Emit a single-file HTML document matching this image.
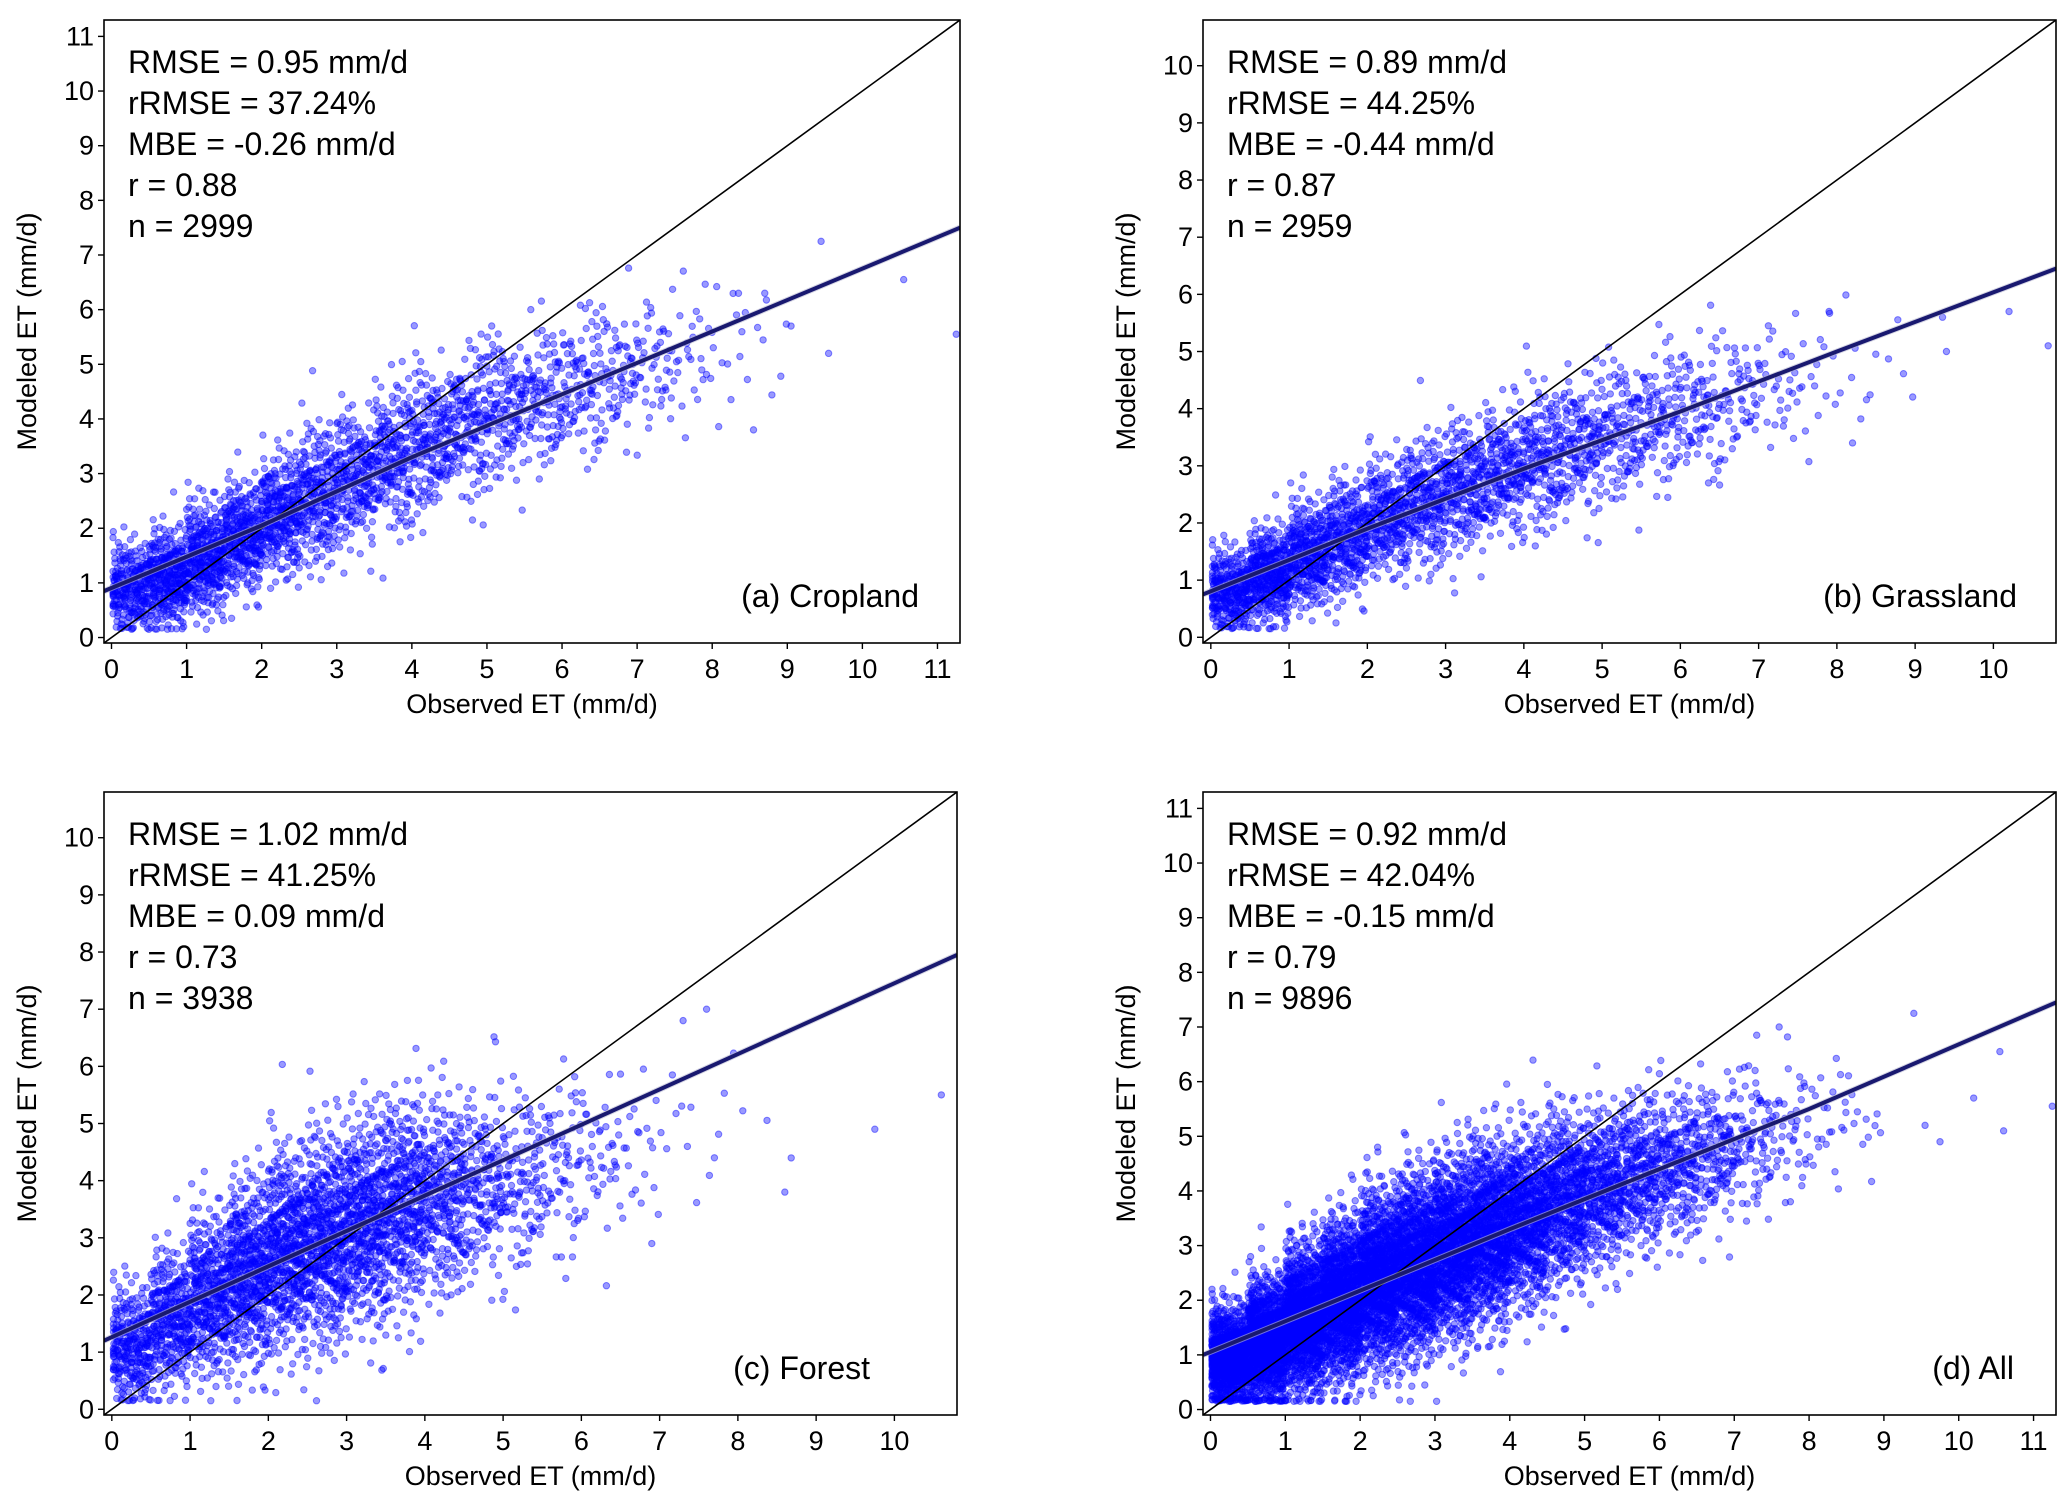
<!DOCTYPE html>
<html><head><meta charset="utf-8"><style>
html,body{margin:0;padding:0;background:#fff;}
svg{display:block;font-family:"Liberation Sans",sans-serif;}
</style></head><body>
<svg id="fig" width="2067" height="1503" viewBox="0 0 2067 1503" xmlns="http://www.w3.org/2000/svg"></svg>
<script>
// ---- data (binned density of scatter) ----
const binX = [0.25,0.75,1.25,1.75,2.25,2.75,3.25,3.75,4.25,4.75,5.25,5.75,6.25,6.75,7.25,7.75,8.25,8.75];
const meanA = [0.9,1.1,1.45,1.85,2.25,2.6,2.95,3.3,3.6,3.95,4.2,4.4,4.6,4.8,5.0,5.2,5.3,5.4];
const countA = [250,320,330,300,280,240,210,200,180,160,130,110,90,70,45,25,12,6];
const sdA = [0.4,0.45,0.5,0.5,0.55,0.6,0.6,0.65,0.65,0.65,0.65,0.65,0.65,0.65,0.65,0.65,0.7,0.7];
const meanB = [0.8,1.1,1.45,1.75,2.1,2.4,2.65,2.9,3.15,3.4,3.6,3.85,4.0,4.2,4.4,4.5,4.6,4.7];
const countB = [300,380,330,280,250,240,220,200,180,150,120,100,80,55,30,15,8,4];
const sdB = [0.35,0.4,0.45,0.5,0.5,0.55,0.55,0.55,0.6,0.6,0.6,0.6,0.6,0.6,0.6,0.6,0.6,0.6];
const meanC = [1.1,1.6,2.0,2.4,2.8,3.0,3.3,3.6,3.7,3.9,4.0,4.3,4.4,4.5,5.0,5.0,5.0,5.0];
const countC = [280,320,380,450,480,470,440,380,260,170,110,70,40,20,8,4,2,1];
const sdC = [0.5,0.6,0.7,0.8,0.85,0.9,0.9,0.9,0.85,0.8,0.8,0.75,0.7,0.7,0.7,0.7,0.7,0.7];
const meanD = [0.95,1.25,1.65,2.0,2.4,2.65,2.95,3.25,3.5,3.85,4.05,4.3,4.5,4.7,4.9,5.1,5.2,5.3];
const countD = [830,1020,1040,1030,1010,950,870,780,620,480,360,280,210,145,83,44,22,11];
const sdD = [0.45,0.55,0.65,0.7,0.75,0.8,0.8,0.8,0.75,0.75,0.7,0.7,0.65,0.65,0.65,0.65,0.65,0.65];
// outliers
const outA = [[9.45,7.25],[10.55,6.55],[11.25,5.55],[9.55,5.2],[9.05,5.7],[8.7,6.3],[8.35,6.3],[8.55,3.8]];
const outB = [[9.35,5.6],[10.2,5.7],[10.7,5.1],[9.4,5.0],[8.2,3.4],[7.9,5.7]];
const outC = [[10.6,5.5],[9.75,4.9],[8.6,3.8],[7.6,7.0],[7.3,6.8],[7.7,4.4],[6.9,2.9]];
const outD = [[9.4,7.25],[10.55,6.55],[11.25,5.55],[10.2,5.7],[10.6,5.1],[9.75,4.9],[9.55,5.2],[7.6,7.0],[7.3,6.85]];
// regression (smoothed fit) curves
const fitXA = [-0.1,2,4,6,8,11.3];  const fitYA = [0.85,2.05,3.3,4.45,5.6,7.5];
const fitXB = [-0.1,2,4,6,8,10.8];  const fitYB = [0.75,1.9,2.95,3.95,5.0,6.45];
const fitXC = [-0.1,10.8];          const fitYC = [1.2,7.95];
const fitXD = [-0.1,2.4,4,6,8,11.3];const fitYD = [1.0,2.4,3.3,4.4,5.5,7.45];
const statsA = ["RMSE = 0.95 mm/d","rRMSE = 37.24%","MBE = -0.26 mm/d","r = 0.88","n = 2999"];
const statsB = ["RMSE = 0.89 mm/d","rRMSE = 44.25%","MBE = -0.44 mm/d","r = 0.87","n = 2959"];
const statsC = ["RMSE = 1.02 mm/d","rRMSE = 41.25%","MBE = 0.09 mm/d","r = 0.73","n = 3938"];
const statsD = ["RMSE = 0.92 mm/d","rRMSE = 42.04%","MBE = -0.15 mm/d","r = 0.79","n = 9896"];
const ticks11 = [0,1,2,3,4,5,6,7,8,9,10,11];
const ticks10 = [0,1,2,3,4,5,6,7,8,9,10];

const NS="http://www.w3.org/2000/svg";
const svg=document.getElementById('fig');
function mk(tag,attrs,parent){const e=document.createElementNS(NS,tag);for(const k in attrs)e.setAttribute(k,attrs[k]);(parent||svg).appendChild(e);return e;}

const panels=[
 {id:'a',L:104,R:960,T:20,B:643,max:11.3,ticks:ticks11,mean:meanA,count:countA,sd:sdA,out:outA,fx:fitXA,fy:fitYA,stats:statsA,label:"(a) Cropland",labRight:919},
 {id:'b',L:1203,R:2056,T:20,B:643,max:10.8,ticks:ticks10,mean:meanB,count:countB,sd:sdB,out:outB,fx:fitXB,fy:fitYB,stats:statsB,label:"(b) Grassland",labRight:2017},
 {id:'c',L:104,R:957,T:792,B:1415,max:10.8,ticks:ticks10,mean:meanC,count:countC,sd:sdC,out:outC,fx:fitXC,fy:fitYC,stats:statsC,label:"(c) Forest",labRight:870},
 {id:'d',L:1203,R:2056,T:792,B:1415,max:11.3,ticks:ticks11,mean:meanD,count:countD,sd:sdD,out:outD,fx:fitXD,fy:fitYD,stats:statsD,label:"(d) All",labRight:2014}
];

function frac(v){return v-Math.floor(v);}
panels.forEach(p=>{
  const g=mk('g',{});
  
  
  const min=-0.1;
  const sx=v=>p.L+(v-min)/(p.max-min)*(p.R-p.L);
  const sy=v=>p.B-(v-min)/(p.max-min)*(p.B-p.T);
  const cid='clip'+p.id;
  const cp=mk('clipPath',{id:cid},g);mk('rect',{x:p.L,y:p.T,width:p.R-p.L,height:p.B-p.T},cp);
  const pts=mk('g',{'clip-path':'url(#'+cid+')',fill:'#0000ff','fill-opacity':'0.4',stroke:'#0000ff','stroke-opacity':'0.45','stroke-width':'1'},g);
  
  
  let k=0;
  binX.forEach((c,bi)=>{
    for(let i=0;i<p.count[bi];i++){
      k++;
      const u1=frac(0.5+k*0.7548776662), u2=frac(0.5+k*0.5698402910), u3=frac(0.3+k*0.6180339887);
      const z=Math.sqrt(-2*Math.log(Math.max(u1,1e-4)))*Math.cos(2*Math.PI*u2);
      let x=c+(u3-0.5)*0.5; if(x<0.02)x=0.02+u3*0.05;
      let y=p.mean[bi]+p.sd[bi]*z; if(y<0.15)y=0.15+u1*0.3;
      mk('circle',{cx:sx(x).toFixed(1),cy:sy(y).toFixed(1),r:3.2},pts);
    }
  });
  p.out.forEach(o=>{
    const c=mk('circle',{cx:sx(o[0]),cy:sy(o[1]),r:3.2},pts);
    
    
  });
  const one=mk('line',{x1:sx(min),y1:sy(min),x2:sx(p.max),y2:sy(p.max),stroke:'#000','stroke-width':1.6,'clip-path':'url(#'+cid+')'},g);
  
  
  let d='';p.fx.forEach((x,i)=>{d+=(i?'L':'M')+sx(x).toFixed(1)+' '+sy(p.fy[i]).toFixed(1);});
  const band=mk('path',{d:d,stroke:'#b8b8d0','stroke-width':6,'stroke-opacity':0.6,fill:'none','clip-path':'url(#'+cid+')'},g);
  
  
  const fit=mk('path',{d:d,stroke:'#191970','stroke-width':4,fill:'none','clip-path':'url(#'+cid+')'},g);
  
  
  const fr=mk('rect',{x:p.L,y:p.T,width:p.R-p.L,height:p.B-p.T,fill:'none',stroke:'#000','stroke-width':1.6},g);
  
  
  p.ticks.forEach(t=>{
    mk('line',{x1:sx(t),y1:p.B,x2:sx(t),y2:p.B+6,stroke:'#000','stroke-width':1.4},g);
    const tx=mk('text',{x:sx(t),y:p.B+35,'font-size':27,'text-anchor':'middle',fill:'#000'},g);
    tx.textContent=t;
    
    
    mk('line',{x1:p.L-6,y1:sy(t),x2:p.L,y2:sy(t),stroke:'#000','stroke-width':1.4},g);
    const ty=mk('text',{x:p.L-10,y:sy(t)+9,'font-size':27,'text-anchor':'end',fill:'#000'},g);
    ty.textContent=t;
    
    
  });
  const xl=mk('text',{x:(p.L+p.R)/2,y:p.B+70,'font-size':27,'text-anchor':'middle',fill:'#000'},g);
  xl.textContent='Observed ET (mm/d)';
  
  
  const yc=(p.T+p.B)/2, xc=p.L-68;
  const yl=mk('text',{x:xc,y:yc,'font-size':27,'text-anchor':'middle',fill:'#000',transform:'rotate(-90 '+xc+' '+yc+')'},g);
  yl.textContent='Modeled ET (mm/d)';
  
  
  p.stats.forEach((s,i)=>{
    const st=mk('text',{x:p.L+24,y:p.T+53+i*41,'font-size':32,fill:'#000'},g);
    st.textContent=s;
    
    
  });
  const pl=mk('text',{x:p.labRight,y:p.B-36,'font-size':32,'text-anchor':'end',fill:'#000'},g);
  pl.textContent=p.label;
  
  
});
</script>
</body></html>
